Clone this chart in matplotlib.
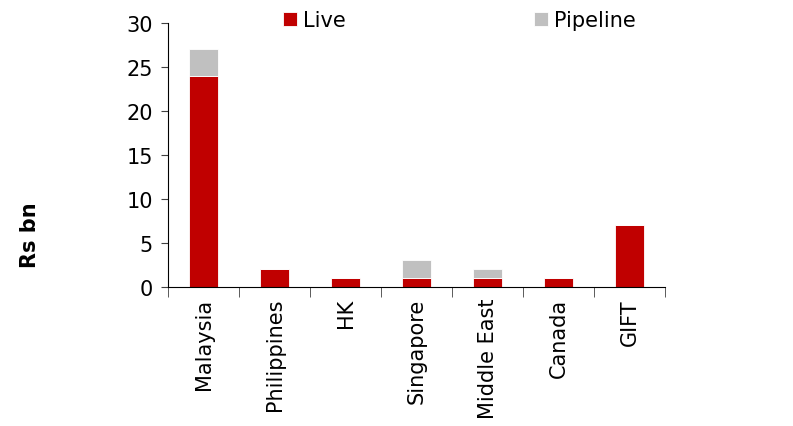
import numpy as np
import matplotlib.pyplot as plt

categories = ['Malaysia', 'Philippines', 'HK', 'Singapore', 'Middle East', 'Canada', 'GIFT']
live = [24, 2, 1, 1, 1, 1, 7]
pipeline = [3, 0, 0, 2, 1, 0, 0]

plt.rcParams['font.family'] = ['DejaVu Sans']

fig = plt.figure(figsize=(7.93, 4.27), dpi=100)
ax = fig.add_axes([0.212, 0.326, 0.627, 0.618])

x = np.arange(len(categories))
ax.bar(x, live, width=0.41, color='#C00000', edgecolor='white', linewidth=0.6, label='Live')
ax.bar(x, pipeline, width=0.41, bottom=live, color='#C0C0C0', edgecolor='white', linewidth=0.6, label='Pipeline')

ax.set_xlim(-0.5, len(categories) - 0.5)
ax.set_ylim(0, 30)
ax.set_yticks(range(0, 31, 5))
ax.tick_params(axis='y', labelsize=15, length=5, direction='out', color='#404040', pad=6)

ax.set_xticks(x)
ax.set_xticklabels(categories, rotation=90, fontsize=15)
ax.tick_params(axis='x', length=0, pad=8)
ax.set_xticks(np.arange(-0.5, len(categories)), minor=True)
ax.tick_params(axis='x', which='minor', length=7, color='#404040')

for s in ['top', 'right']:
    ax.spines[s].set_visible(False)
ax.spines['left'].set_color('black')
ax.spines['bottom'].set_color('black')

ax.set_ylabel('Rs bn', fontsize=15, fontweight='bold')
ax.yaxis.set_label_coords(-0.258, 0.2)

ax.legend(loc='upper left', bbox_to_anchor=(0.339, 1.008), bbox_transform=fig.transFigure,
          ncol=2, frameon=False, fontsize=15, handlelength=0.65, handleheight=0.65,
          handletextpad=0.3, columnspacing=9.05, borderaxespad=0.3)

fig.savefig('out.png', dpi=100)
